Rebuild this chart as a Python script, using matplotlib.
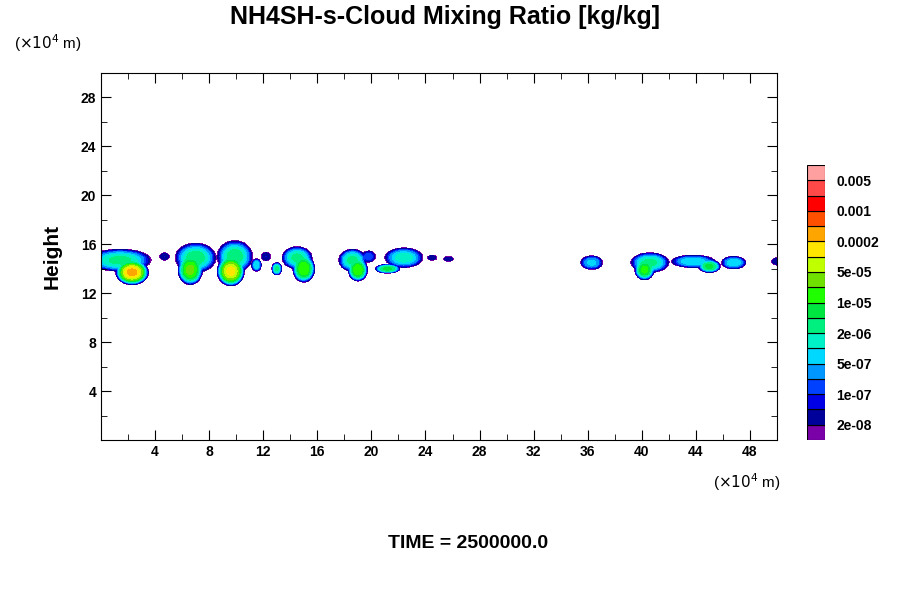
import numpy as np
import matplotlib.pyplot as plt
from matplotlib.colors import ListedColormap, BoundaryNorm
from matplotlib.ticker import MultipleLocator

plt.rcParams['font.family'] = ['Liberation Sans', 'DejaVu Sans']

# contour levels (kg/kg) and fill colours, bottom to top
levels = [1e-8, 2e-8, 5e-8, 1e-7, 2e-7, 5e-7, 1e-6, 2e-6, 5e-6, 1e-5, 2e-5, 5e-5,
          1e-4, 2e-4, 5e-4, 1e-3, 2e-3, 5e-3, 1e-2]
colors = ['#7a00a8', '#00009a', '#0000e6', '#0040ff', '#0096ff', '#00d8ff', '#00f0c8',
          '#00f080', '#00e640', '#20ff00', '#70e000', '#c0ff00', '#ffe600', '#ffa500',
          '#ff5000', '#ff0000', '#ff4848', '#ffa0a0']
cb_labels = ['2e-08', '1e-07', '5e-07', '2e-06', '1e-05', '5e-05', '0.0002', '0.001', '0.005']

# cloud cells: x centre, z centre, x radius, z radius, log10 peak
blob_x = [1.4, 2.3, 4.7, 7.0, 6.6, 9.9, 9.6, 11.5, 12.2, 13.0, 14.5, 15.0, 18.6, 19.8, 19.0,
          22.4, 21.2, 24.5, 25.7, 36.3, 40.6, 40.2, 43.8, 45.0, 46.8, 50.0]
blob_z = [14.7, 13.7, 15.0, 14.9, 13.9, 15.0, 13.8, 14.3, 15.0, 14.0, 14.9, 14.0, 14.7, 15.0, 13.9,
          14.9, 14.0, 14.9, 14.8, 14.5, 14.5, 13.9, 14.6, 14.2, 14.5, 14.6]
blob_rx = [2.3, 1.2, 0.35, 1.5, 0.9, 1.3, 1.0, 0.35, 0.35, 0.35, 1.1, 0.8, 1.0, 0.5, 0.7,
           1.4, 0.9, 0.35, 0.35, 0.8, 1.4, 0.7, 1.6, 0.8, 0.9, 0.4]
blob_rz = [0.9, 1.0, 0.3, 1.2, 1.2, 1.3, 1.2, 0.5, 0.35, 0.5, 0.9, 1.1, 0.9, 0.45, 0.9,
           0.8, 0.35, 0.2, 0.2, 0.55, 0.8, 0.8, 0.5, 0.5, 0.5, 0.3]
blob_peak = [-5.6, -3.6, -7.3, -5.5, -4.6, -5.5, -3.9, -6.0, -7.3, -5.6, -5.6, -4.7, -5.6, -6.8, -4.7,
             -5.8, -5.2, -7.4, -7.4, -6.2, -5.6, -4.9, -6.0, -5.2, -6.0, -7.4]

x = np.linspace(0, 50, 800)
z = np.linspace(0, 30, 600)
X, Z = np.meshgrid(x, z)
q = np.zeros(X.shape)
for xc, zc, rx, rz, pk in zip(blob_x, blob_z, blob_rx, blob_rz, blob_peak):
    r = np.sqrt(((X - xc) / rx) ** 2 + ((Z - zc) / rz) ** 2)
    q += 10 ** (pk - (pk + 8) * r ** 3)

cmap = ListedColormap(colors)
norm = BoundaryNorm(levels, cmap.N)

fig = plt.figure(figsize=(9, 6), dpi=100)
ax = fig.add_axes([101 / 900, 160 / 600, 676 / 900, 367 / 600])
ax.contourf(X, Z, q, levels=levels, cmap=cmap, norm=norm)
ax.set_xlim(0, 50)
ax.set_ylim(0, 30)
ax.xaxis.set_minor_locator(MultipleLocator(2))
ax.yaxis.set_minor_locator(MultipleLocator(2))
ax.set_xticks([4 * i for i in range(1, 13)])
ax.set_yticks([4 * i for i in range(1, 8)])
ax.tick_params(which='both', direction='in', top=True, right=True, labelsize=10)
ax.tick_params(which='major', length=7)
ax.tick_params(which='minor', length=4)
for lab in ax.get_xticklabels() + ax.get_yticklabels():
    lab.set_fontweight('bold')
ax.set_ylabel('Height', fontsize=15, fontweight='bold', labelpad=14)

fig.text(0.495, 0.972, 'NH4SH-s-Cloud Mixing Ratio [kg/kg]', ha='center', va='center',
         fontsize=18, fontweight='bold')
fig.text(0.015, 0.928, r'($\times10^4$ m)', fontsize=11, va='center')
fig.text(0.792, 0.197, r'($\times10^4$ m)', fontsize=11, va='center')
fig.text(0.52, 0.095, 'TIME = 2500000.0', ha='center', va='center', fontsize=14, fontweight='bold')

# colour bar as stacked boxes
cax = fig.add_axes([807 / 900, 160 / 600, 18 / 900, 275 / 600])
n = len(colors)
cax.bar([0] * n, [1] * n, bottom=list(range(n)), width=1, color=colors, edgecolor='black', linewidth=0.8)
cax.set_xlim(-0.5, 0.5)
cax.set_ylim(0, n)
cax.set_xticks([])
cax.yaxis.tick_right()
cax.set_yticks([i * 2 + 1 for i in range(len(cb_labels))])
cax.set_yticklabels(cb_labels, fontsize=10, fontweight='bold')
cax.tick_params(length=0, pad=8)
for s in cax.spines.values():
    s.set_visible(False)

fig.savefig('out.png', dpi=100)
